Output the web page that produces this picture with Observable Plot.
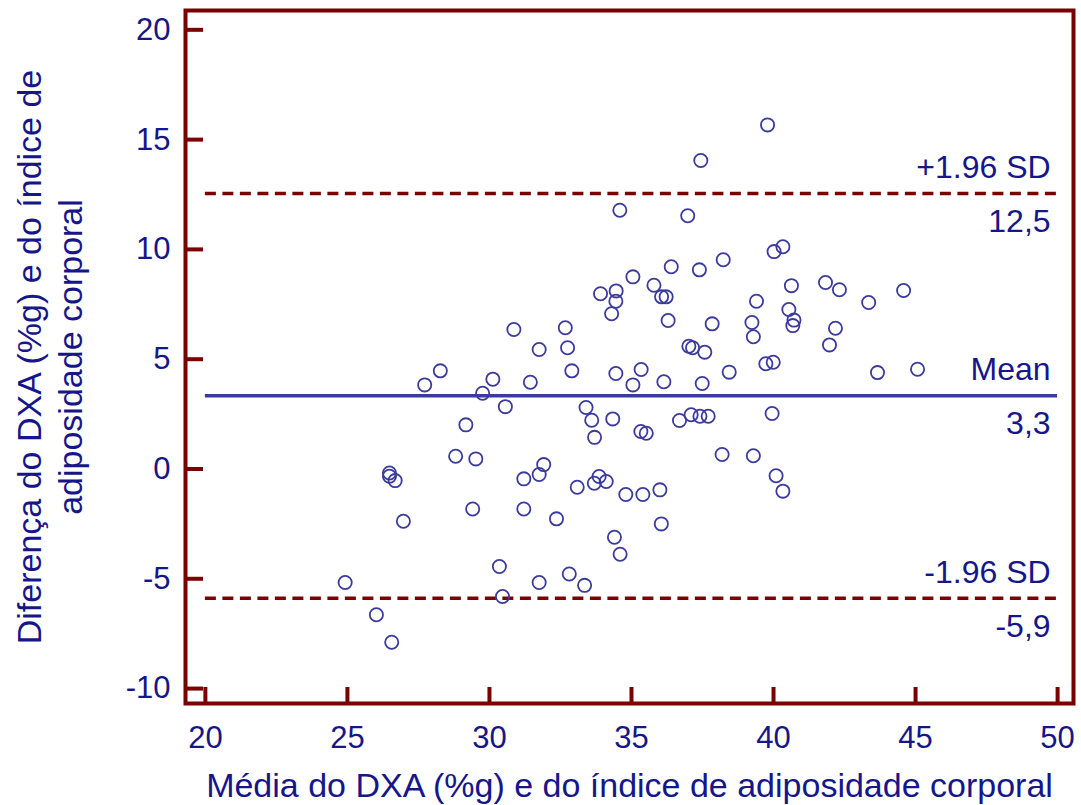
<!DOCTYPE html>
<html>
<head>
<meta charset="utf-8">
<script src="https://cdn.jsdelivr.net/npm/d3@7"></script>
<script src="https://cdn.jsdelivr.net/npm/@observablehq/plot@0.6"></script>
<style>
  html, body { margin: 0; padding: 0; background: #ffffff; }
  #chart svg { display: block; }
</style>
</head>
<body>
<div id="chart"></div>
<script>
// ---- Data ----
const meanX = [39.79,37.44,34.59,36.98,40.33,40.02,38.23,36.40,37.39,35.05,35.79,41.83,40.63,42.32,44.58,33.91,34.46,36.06,36.22,34.45,39.40,43.35,34.30,40.54,40.72,40.68,36.29,37.84,39.24,42.18,30.86,32.67,39.29,31.75,32.75,37.02,37.15,41.97,37.58,39.73,39.99,35.34,38.44,28.27,32.90,34.45,43.66,45.07,27.72,30.12,31.44,35.05,36.14,37.49,29.76,30.56,33.40,33.60,34.34,37.10,37.41,37.70,36.69,39.95,29.17,35.33,35.52,33.70,28.81,29.52,38.19,39.29,31.91,26.48,26.48,26.68,31.21,31.75,33.86,34.11,33.69,40.09,33.09,34.80,35.40,36.00,40.33,26.97,29.41,31.21,32.36,36.05,34.40,34.60,30.35,32.81,33.35,31.75,24.92,30.46,26.02,26.56];
const diffY = [15.67,14.05,11.78,11.53,10.12,9.90,9.53,9.21,9.07,8.75,8.37,8.49,8.35,8.16,8.13,7.98,8.11,7.84,7.84,7.64,7.64,7.58,7.07,7.26,6.78,6.53,6.76,6.61,6.67,6.41,6.35,6.43,6.02,5.44,5.52,5.59,5.52,5.65,5.32,4.79,4.86,4.53,4.41,4.47,4.47,4.35,4.39,4.54,3.83,4.09,3.95,3.83,3.97,3.89,3.45,2.84,2.80,2.22,2.28,2.47,2.40,2.40,2.21,2.53,2.01,1.71,1.63,1.44,0.58,0.46,0.66,0.60,0.20,-0.18,-0.33,-0.53,-0.45,-0.25,-0.34,-0.57,-0.65,-0.31,-0.83,-1.16,-1.16,-0.95,-1.01,-2.38,-1.82,-1.82,-2.27,-2.50,-3.11,-3.88,-4.44,-4.78,-5.30,-5.17,-5.17,-5.81,-6.64,-7.89];

const limitValues = [12.55, 3.33, -5.89];
const limitNames = ["+1.96 SD", "Mean", "-1.96 SD"];
const limitValueLabels = ["12,5", "3,3", "-5,9"];
const limitDashed = [true, false, true];

const xTicks = [20, 25, 30, 35, 40, 45, 50];
const yTicks = [-10, -5, 0, 5, 10, 15, 20];
const xDomain = [19.3, 50.56];
const yDomain = [-10.68, 20.88];

const xTitle = "Média do DXA (%g) e do índice de adiposidade corporal";
const yTitle = "Diferença do DXA (%g) e do índice de\nadiposidade corporal";

// ---- Build tables ----
const points = meanX.map((x, i) => ({x, y: diffY[i]}));
const limits = limitValues.map((v, i) => ({
  v, name: limitNames[i], label: limitValueLabels[i], dashed: limitDashed[i]
}));

const RED = "#7b0000";
const NAVY = "#16168a";
const BLUE = "#3b3b9e";
const x0 = xTicks[0], x1 = xTicks[xTicks.length - 1];
const plainNum = d => String(d);

const chart = Plot.plot({
  width: 1081,
  height: 805,
  marginTop: 10,
  marginBottom: 102,
  marginLeft: 185,
  marginRight: 8,
  style: {fontFamily: "'Liberation Sans', Arial, Helvetica, sans-serif", background: "#ffffff", color: NAVY},
  x: {domain: xDomain, axis: null},
  y: {domain: yDomain, axis: null},
  marks: [
    Plot.ruleY(limits.filter(d => d.dashed), {
      y: "v", x1: x0, x2: x1, stroke: RED, strokeWidth: 3.5, strokeDasharray: "11,6.5"
    }),
    Plot.ruleY(limits.filter(d => !d.dashed), {
      y: "v", x1: x0, x2: x1, stroke: BLUE, strokeWidth: 3.5
    }),
    Plot.dot(points, {x: "x", y: "y", r: 6.6, stroke: BLUE, strokeWidth: 1.8, fill: "none"}),
    Plot.text(limits, {
      x: () => x1, y: "v", text: "name", textAnchor: "end", dx: -7, dy: -26,
      fontSize: 32, fill: NAVY, lineAnchor: "middle"
    }),
    Plot.text(limits, {
      x: () => x1, y: "v", text: "label", textAnchor: "end", dx: -7, dy: 28,
      fontSize: 32, fill: NAVY, lineAnchor: "middle"
    }),
    Plot.axisX(xTicks, {
      tickSize: -16, tickPadding: 38, stroke: RED, strokeWidth: 4, fill: NAVY,
      fontSize: 31, label: null, tickFormat: plainNum
    }),
    Plot.axisY(yTicks, {
      tickSize: -18, tickPadding: 33, stroke: RED, strokeWidth: 4, fill: NAVY,
      fontSize: 31, label: null, tickFormat: plainNum
    }),
    Plot.frame({stroke: RED, strokeWidth: 4}),
    Plot.text([xTitle], {
      text: d => d, frameAnchor: "bottom", textAnchor: "middle", dy: 83, fontSize: 34,
      fill: NAVY, lineAnchor: "middle"
    }),
    Plot.text([yTitle], {
      text: d => d, frameAnchor: "left", textAnchor: "middle", rotate: -90, dx: -137,
      fontSize: 34, lineHeight: 1.21, fill: NAVY, lineAnchor: "middle"
    })
  ]
});

document.getElementById("chart").appendChild(chart);
</script>
</body>
</html>
